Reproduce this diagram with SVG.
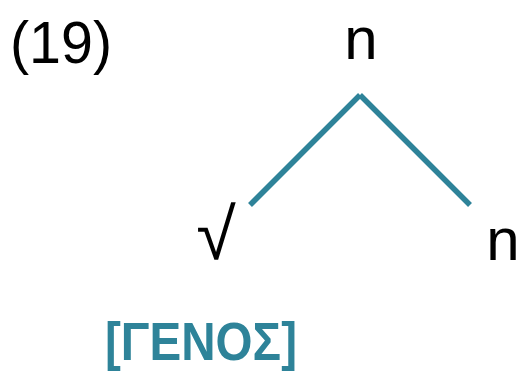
<svg xmlns="http://www.w3.org/2000/svg" width="519" height="372" viewBox="0 0 519 372">
<style>
.t{font-family:"Liberation Sans","DejaVu Sans",sans-serif;fill:#000}
.lab{font-family:"Liberation Sans","DejaVu Sans",sans-serif;font-weight:bold;fill:#2E8399}
.e{stroke:#2E8399;stroke-width:5.5;fill:none}
</style>
<rect width="519" height="372" fill="#fff"/>
<g id="num"><text class="t" x="10" y="63" font-size="60" textLength="102" lengthAdjust="spacingAndGlyphs">(19)</text></g>
<g id="connectors">
<line class="e" x1="250" y1="205" x2="360" y2="95"/>
<line class="e" x1="360" y1="95" x2="470" y2="205"/>
</g>
<g id="n-top"><text class="t" x="361" y="59" font-size="60" text-anchor="middle">n</text></g>
<g id="root"><text class="t" x="216" y="259" font-size="72" text-anchor="middle">√</text></g>
<g id="n-right"><text class="t" x="503" y="260" font-size="60" text-anchor="middle">n</text></g>
<g id="label"><text class="lab" x="105" y="360" font-size="54" textLength="192" lengthAdjust="spacingAndGlyphs">[ΓΕΝΟΣ]</text></g>
</svg>
